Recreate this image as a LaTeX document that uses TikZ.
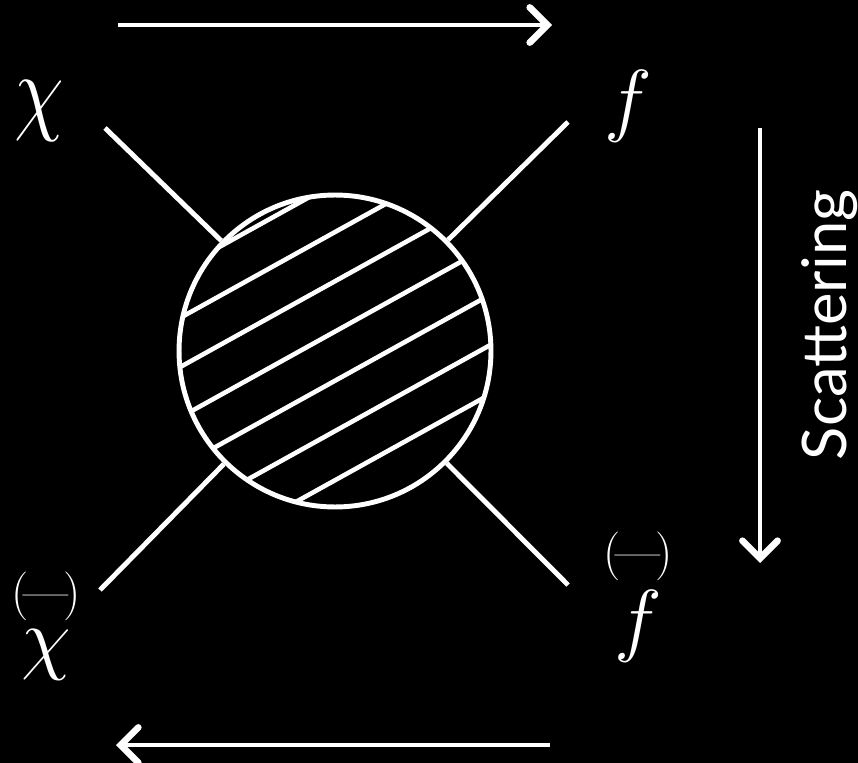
\documentclass[tikz,border=0pt]{standalone}
\usepackage{amsmath}
\usepackage{fontspec}
\newfontfamily\sidefont{Lato}
\usepackage{tikz}
\usetikzlibrary{positioning}
\usetikzlibrary{calc,arrows.meta}
\newcommand{\paren}{\hbox{\fontsize{15}{17}\selectfont(\kern-0.1em—\kern-0.1em)}}
\tikzset{
	leg/.style = {draw=white, line width=2.8pt},
	blob/.style = {circle, draw=white, line width=2.8pt, minimum size=6.24cm, inner sep=0pt},
	hatch/.style = {draw=white, line width=2.6pt},
	flow/.style = {draw=white, line width=2.2pt,
		-{Straight Barb[length=10pt, width=20pt, line width=3.8pt, line cap=round]}},
	particle/.style = {text=white, inner sep=0pt, anchor=base,
		font=\Huge, scale=1.85},
}

\begin{document}
\begin{tikzpicture}[x=0.02cm, y=-0.02cm]
	\fill[black] (0,0) rectangle (858,763);
	\useasboundingbox (0,0) rectangle (858,763);
	\node (blob) [blob] at (335,351) {};
	% hatching inside the blob
	\begin{scope}
		\clip (blob.center) circle (156);
		\foreach \o in {-147,-104,-61,-17,26,70,113}
			\draw[hatch] ($(blob.center)+(0.485*\o-175, 0.875*\o+97)$) -- ++(350,-194);
	\end{scope}
	\coordinate (chiin) at (105,128);
	\coordinate (fout) at (568,122);
	\coordinate (chibarin) at (100,590);
	\coordinate (fbarout) at (568,585);
	\path[leg] (chiin) -- (blob);
	\path[leg] (fout) -- (blob);
	\path[leg] (chibarin) -- (blob);
	\path[leg] (fbarout) -- (blob);
	\node (chi) [particle, yscale=1.2] at (39,123) {$\chi$};
	\node (f) [particle] at (628,127) {$f$};
	\node (chibar) [particle] at (46,664) {$\overset{\paren}{\chi}$};
	\node (fbar) [particle] at (638,646) {$\overset{\paren}{f}$};
	% direction arrows
	\coordinate (topl) at (118,25);
	\coordinate (topr) at (552,25);
	\coordinate (botl) at (116,745);
	\coordinate (botr) at (550,745);
	\coordinate (sidet) at (760,128);
	\coordinate (sideb) at (760,563);
	\path[flow] (topl) -- (topr);
	\path[flow] (botr) -- (botl);
	\path[flow] (sidet) -- (sideb);
	\node (scat) [text=white, rotate=90, anchor=base, inner sep=0pt,
		font=\sidefont\fontsize{35}{38}\selectfont] at (846,325) {Scattering};
\end{tikzpicture}
\end{document}
